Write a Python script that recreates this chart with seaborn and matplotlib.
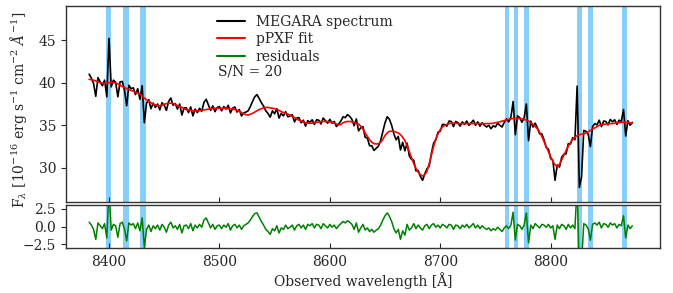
import numpy as np
import pandas as pd
import matplotlib
matplotlib.use("Agg")
import matplotlib.pyplot as plt
import seaborn as sns

# ---------- data (2 A sampling) ----------
wave_start, wave_step = 8382, 2

fit = [
    40.4, 40.35, 40.3, 40.2, 40.1, 40.0, 39.95, 39.9, 39.95, 40.0,
    40.0, 40.0, 39.95, 39.85, 39.7, 39.55, 39.45, 39.3, 39.2, 39.1,
    39.0, 38.9, 38.8, 38.65, 38.45, 38.2, 38.0, 37.8, 37.65, 37.5,
    37.4, 37.3, 37.3, 37.35, 37.45, 37.55, 37.6, 37.6, 37.55, 37.45,
    37.3, 37.2, 37.1, 36.95, 36.85, 36.8, 36.75, 36.7, 36.7, 36.7,
    36.7, 36.75, 36.8, 36.85, 36.9, 36.95, 36.98, 37.0, 37.0, 37.0,
    37.0, 37.0, 37.0, 36.95, 36.95, 36.9, 36.85, 36.75, 36.65, 36.5,
    36.35, 36.25, 36.2, 36.3, 36.4, 36.55, 36.7, 36.85, 36.95, 37.05,
    37.1, 37.1, 37.05, 37.0, 36.95, 36.85, 36.75, 36.6, 36.5, 36.4,
    36.3, 36.2, 36.05, 35.9, 35.75, 35.6, 35.5, 35.4, 35.3, 35.25,
    35.25, 35.25, 35.3, 35.35, 35.4, 35.45, 35.45, 35.45, 35.45, 35.4,
    35.35, 35.25, 35.15, 35.05, 35.1, 35.3, 35.4, 35.45, 35.45, 35.4,
    35.35, 35.25, 35.15, 34.9, 34.55, 34.1, 33.7, 33.3, 33.0, 32.85,
    32.8, 32.85, 33.0, 33.35, 33.8, 34.1, 34.3, 34.3, 34.3, 34.2,
    34.1, 33.9, 33.6, 33.2, 32.6, 31.9, 31.2, 30.5, 29.95, 29.5,
    29.2, 29.05, 29.2, 29.6, 30.5, 31.5, 32.5, 33.4, 34.0, 34.5,
    34.8, 35.0, 35.1, 35.2, 35.25, 35.25, 35.25, 35.2, 35.2, 35.2,
    35.2, 35.2, 35.2, 35.2, 35.2, 35.2, 35.2, 35.2, 35.2, 35.2,
    35.2, 35.2, 35.2, 35.25, 35.3, 35.35, 35.4, 35.5, 35.55, 35.65,
    35.7, 35.75, 35.8, 35.8, 35.8, 35.8, 35.75, 35.7, 35.6, 35.5,
    35.3, 35.1, 34.85, 34.6, 34.2, 33.7, 33.1, 32.5, 31.9, 31.3,
    30.8, 30.35, 30.15, 30.4, 30.95, 31.5, 32.05, 32.55, 33.0, 33.35,
    33.6, 33.8, 33.9, 33.95, 34.0, 34.1, 34.25, 34.4, 34.55, 34.7,
    34.85, 35.0, 35.05, 35.1, 35.15, 35.15, 35.2, 35.2, 35.25, 35.3,
    35.3, 35.35, 35.35, 35.35, 35.35, 35.3, 35.25,
]

residuals = [
    0.6, 0.2, -0.4, -1.8, 0.5, 0.1, -0.3, 0.4, -1.6, 5.2,
    -0.5, 0.3, 0.1, -1.5, 0.4, 0.6, -0.3, -2.0, 0.5, 0.2,
    0.4, -0.3, 0.5, -0.6, 1.2, -2.9, -0.4, 0.2, -0.7, 0.1,
    -0.3, 0.2, -0.5, 0.3, -0.1, -0.8, 0.2, 0.6, -0.2, 0.1,
    -0.4, 0.3, -0.9, 0.1, 0.2, -0.3, 0.4, -0.6, 0.2, -0.2,
    0.3, -0.1, 0.9, 1.2, 0.5, -0.2, 0.3, -0.4, 0.1, 0.2,
    -0.3, 0.2, -0.1, 0.4, -0.5, 0.1, 0.3, -0.2, 0.2, -0.4,
    0.1, 0.3, 0.5, 0.9, 1.4, 1.8, 1.9, 1.3, 0.7, 0.2,
    -0.4, -0.7, -1.1, -0.3, -0.6, 0.1, -0.9, -0.2, -0.4, 0.2,
    -0.3, -0.1, 0.2, -0.5, 0.1, 0.3, -0.2, 0.2, -0.4, 0.3,
    0.1, 0.4, -0.2, 0.3, 0.2, -0.3, 0.4, 0.1, -0.2, 0.3,
    -0.1, 0.2, -0.3, 0.1, 0.4, 0.7, 0.5, 0.8, 0.6, 0.3,
    -0.4, 0.5, -0.8, -0.2, 0.3, -0.5, -0.2, -0.7, -0.4, -0.8,
    -0.5, -0.3, 0.2, 0.9, 1.5, 1.9, 1.4, 0.7, -0.3, -0.9,
    -0.4, -1.8, -0.6, -1.2, 0.3, -0.5, -0.2, 0.4, -0.3, 0.2,
    -0.2, -0.5, 0.1, 0.3, -0.3, 0.2, 0.4, -0.1, 0.2, -0.2,
    0.3, 0.1, -0.2, 0.3, 0.2, -0.4, 0.2, 0.1, -0.3, 0.2,
    -0.1, 0.3, -0.2, 0.1, 0.4, -0.2, 0.2, -0.3, 0.1, -0.2,
    -0.4, -0.2, -0.6, -0.3, -0.5, -0.1, -0.4, -0.7, -0.2, 0.1,
    -0.3, 0.2, 2.0, -1.9, 0.3, 0.1, -0.4, 0.2, 1.9, -2.3,
    0.2, -0.3, 0.4, 0.1, -0.2, 0.3, 0.2, -0.1, 0.3, -0.2,
    0.1, -1.8, 0.2, -0.3, 0.3, 0.1, -0.4, 0.3, -0.2, 0.2,
    -0.3, 5.8, -6.2, -5.0, 0.4, 0.2, -0.3, -1.9, 0.3, 0.5,
    0.2, 0.6, -0.2, 0.4, 0.3, -0.1, 0.5, 0.2, 0.4, -0.2,
    0.3, 0.1, 1.5, -1.6, 0.2, -0.3, 0.1,
]

# masked sky-line windows (start, end) in Angstrom
mask_lo = [8397.3, 8412.7, 8428.0, 8758.4, 8766.5, 8775.6, 8823.7, 8833.5, 8864.9]
mask_hi = [8401.5, 8418.1, 8433.2, 8762.0, 8770.0, 8780.0, 8828.6, 8838.0, 8869.3]

wave = wave_start + wave_step * np.arange(len(fit))
df = pd.DataFrame({"wave": wave, "fit": fit, "resid": residuals})
df["flux"] = df["fit"] + df["resid"]

# ---------- plot ----------
sns.set_style("ticks")
plt.rcParams["font.family"] = ["DejaVu Serif"]
plt.rcParams["mathtext.fontset"] = "dejavuserif"
plt.rcParams["font.size"] = 10

fig = plt.figure(figsize=(6.73, 2.93), dpi=100)
ax1 = fig.add_axes([0.098, 0.3106, 0.8826, 0.6689])
ax2 = fig.add_axes([0.098, 0.1536, 0.8826, 0.1467], sharex=ax1)

for ax in (ax1, ax2):
    for lo, hi in zip(mask_lo, mask_hi):
        ax.axvspan(lo, hi, color="lightskyblue", lw=0, zorder=0)

sns.lineplot(data=df, x="wave", y="flux", color="black", lw=1.2,
             label="MEGARA spectrum", ax=ax1, estimator=None, sort=False)
sns.lineplot(data=df, x="wave", y="fit", color="red", lw=1.2,
             label="pPXF fit", ax=ax1, estimator=None, sort=False)
# dummy entry so the legend shows the residual colour
ax1.plot([], [], color="green", lw=1.5, label="residuals")
sns.lineplot(data=df, x="wave", y="resid", color="green", lw=1.1,
             ax=ax2, estimator=None, sort=False, legend=False)

ax1.set_xlim(8361, 8899)
ax1.set_ylim(26, 49)
ax2.set_ylim(-3, 3)
ax1.set_yticks([30, 35, 40, 45])
ax2.set_yticks([-2.5, 0.0, 2.5])
ax1.set_xticks([8400, 8500, 8600, 8700, 8800])

ax1.tick_params(axis="x", direction="in", labelbottom=False)
ax2.tick_params(axis="x", direction="in", pad=5)
ax1.set_xlabel("")
ax2.set_xlabel("Observed wavelength [Å]", labelpad=2)
ax1.set_ylabel(r"F$_\lambda$ [10$^{-16}$ erg s$^{-1}$ cm$^{-2}$ $\AA^{-1}$]")
ax1.yaxis.set_label_coords(-0.063, 0.47)
ax2.set_ylabel("")

leg = ax1.legend(loc="upper left", bbox_to_anchor=(0.233, 1.02), frameon=False,
                 labelspacing=0.25, handlelength=2.0)
for line in leg.get_lines():
    line.set_linewidth(1.5)
ax1.text(0.256, 0.665, "S/N = 20", transform=ax1.transAxes, va="center")

for ax in (ax1, ax2):
    for s in ax.spines.values():
        s.set_linewidth(1.0)
        s.set_color("#333333")

fig.savefig("out.png", dpi=100)
